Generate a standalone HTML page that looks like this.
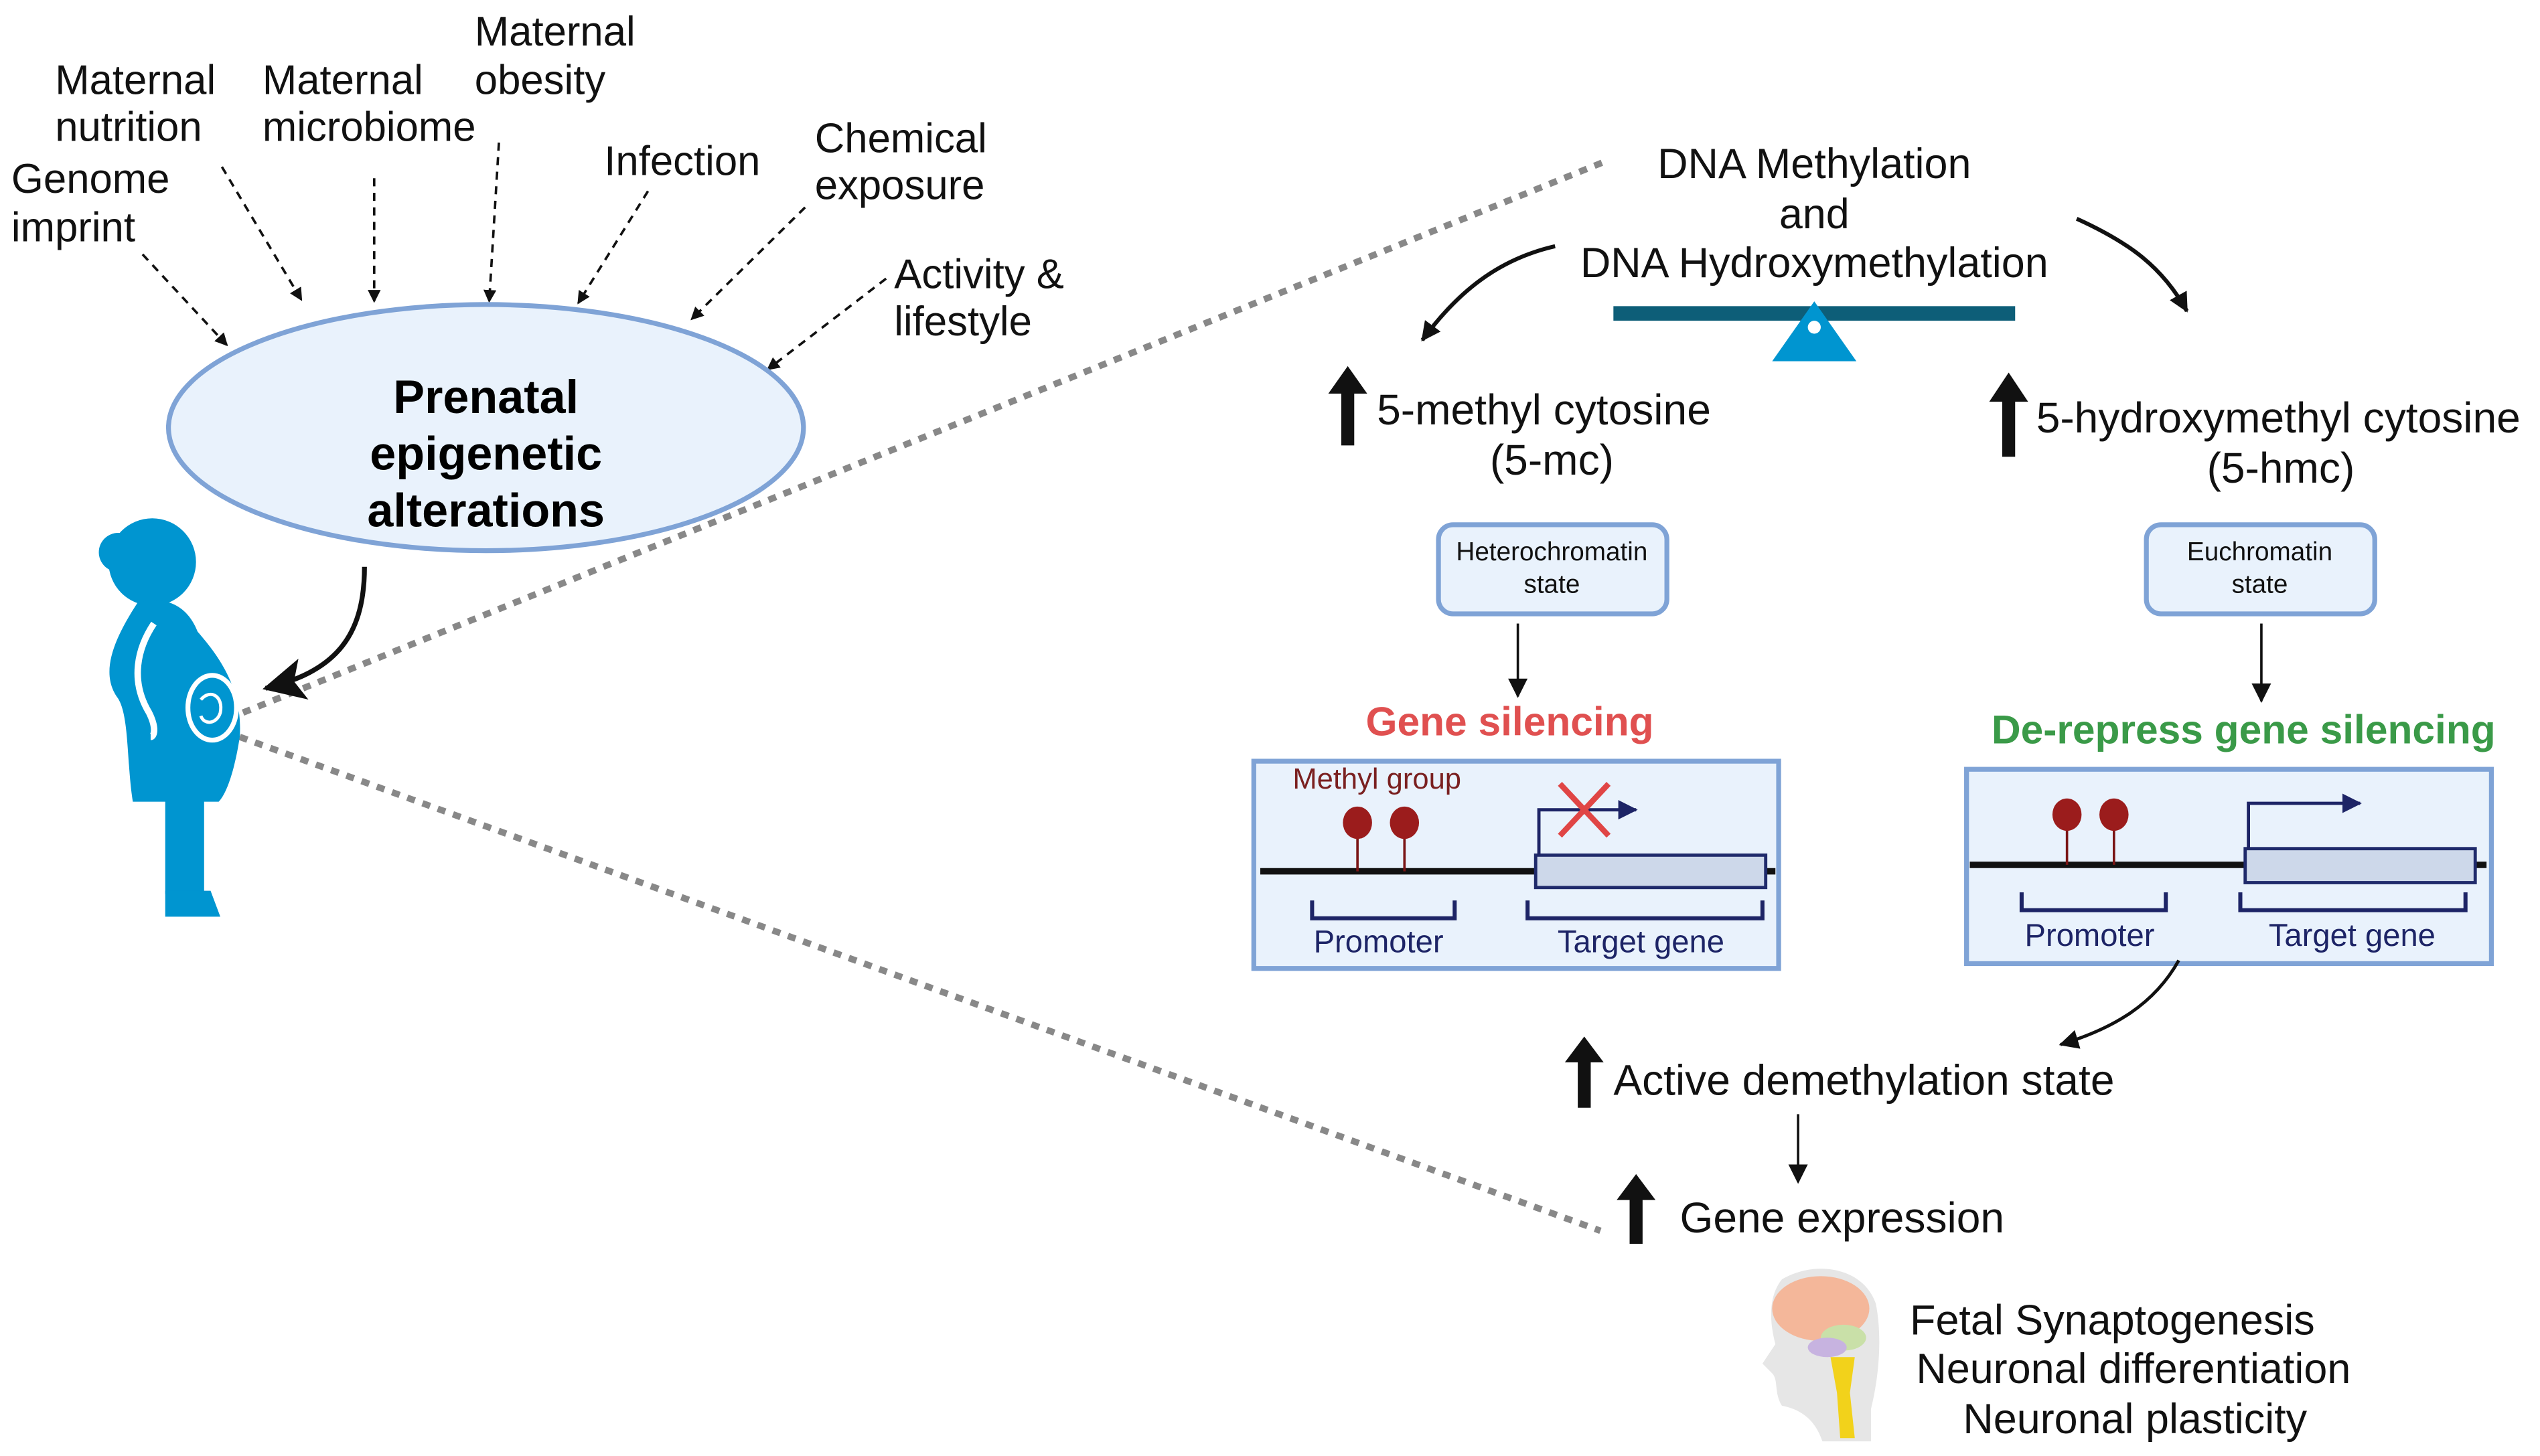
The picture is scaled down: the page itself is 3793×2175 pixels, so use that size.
<!DOCTYPE html>
<html><head><meta charset="utf-8"><style>
html,body{margin:0;padding:0;background:#fff;}
svg{display:block;}
text{font-family:"Liberation Sans",sans-serif;}
</style></head><body>
<svg width="3793" height="2175" viewBox="0 0 1568 899" xmlns="http://www.w3.org/2000/svg">
<defs>
<marker id="sa" markerWidth="8" markerHeight="8" refX="7" refY="4" orient="auto" markerUnits="userSpaceOnUse"><path d="M0,0 L8,4 L0,8 Z" fill="#111"/></marker>
<marker id="ma" markerWidth="12" markerHeight="12" refX="11" refY="6" orient="auto" markerUnits="userSpaceOnUse"><path d="M0,0 L12,6 L0,12 Z" fill="#111"/></marker>
<marker id="la" markerWidth="26" markerHeight="26" refX="24" refY="13" orient="auto" markerUnits="userSpaceOnUse"><path d="M0,0 L26,13 L0,26 L6,13 Z" fill="#111"/></marker>
<marker id="ba" markerWidth="12" markerHeight="12" refX="11" refY="6" orient="auto" markerUnits="userSpaceOnUse"><path d="M0,0 L12,6 L0,12 Z" fill="#1d2466"/></marker>
</defs>

<g stroke="#888" stroke-width="4" stroke-dasharray="5,5" fill="none">
<line x1="150" y1="440" x2="990" y2="100"/>
<line x1="148" y1="455" x2="988" y2="760"/>
</g>

<g font-size="25.5" fill="#111">
<text x="7" y="119">Genome</text><text x="7" y="149">imprint</text>
<text x="34" y="58">Maternal</text><text x="34" y="87">nutrition</text>
<text x="162" y="58">Maternal</text><text x="162" y="87">microbiome</text>
<text x="293" y="28">Maternal</text><text x="293" y="58">obesity</text>
<text x="373" y="108">Infection</text>
<text x="503" y="94">Chemical</text><text x="503" y="123">exposure</text>
<text x="552" y="178">Activity &amp;</text><text x="552" y="207">lifestyle</text>
</g>
<g stroke="#111" stroke-width="1.5" stroke-dasharray="5,4" fill="none" marker-end="url(#sa)">
<line x1="88" y1="157" x2="140" y2="213"/>
<line x1="137" y1="103" x2="186" y2="185"/>
<line x1="231" y1="110" x2="231" y2="186"/>
<line x1="308" y1="88" x2="302" y2="186"/>
<line x1="400" y1="118" x2="357" y2="187"/>
<line x1="497" y1="128" x2="427" y2="197"/>
<line x1="547" y1="172" x2="474" y2="228"/>
</g>

<ellipse cx="300" cy="264" rx="196" ry="76" fill="#e9f2fc" stroke="#7fa3d6" stroke-width="3"/>
<g font-size="29" font-weight="bold" text-anchor="middle" fill="#000">
<text x="300" y="255">Prenatal</text><text x="300" y="290">epigenetic</text><text x="300" y="325">alterations</text>
</g>
<path d="M225,350 C225,395 205,415 164,425" stroke="#111" stroke-width="3" fill="none" marker-end="url(#la)"/>

<g fill="#0095d0">
<circle cx="94" cy="347" r="27"/>
<circle cx="73" cy="341" r="12"/>
<path d="M85,372 C100,368 115,372 122,390 C135,405 150,425 148,455 C145,475 140,490 135,495 L82,495 C78,470 80,440 72,430 C62,415 70,395 85,372 Z"/>
<rect x="102" y="490" width="24" height="62"/>
<path d="M102,550 L130,550 L136,566 L102,566 Z"/>
</g>
<path d="M95,385 C85,400 80,420 92,440 C97,450 95,455 93,455" stroke="#fff" stroke-width="4" fill="none"/>
<ellipse cx="131" cy="437" rx="15" ry="20" fill="none" stroke="#fff" stroke-width="3"/>
<path d="M124,432 C130,425 138,430 136,440 C134,447 126,448 124,442" stroke="#fff" stroke-width="2" fill="none"/>

<g font-size="26" text-anchor="middle" fill="#111">
<text x="1120" y="110">DNA Methylation</text><text x="1120" y="141">and</text><text x="1120" y="171">DNA Hydroxymethylation</text>
</g>
<path d="M960,152 C925,160 900,180 878,210" stroke="#111" stroke-width="2.5" fill="none" marker-end="url(#ma)"/>
<path d="M1282,135 C1315,150 1335,165 1350,192" stroke="#111" stroke-width="2.5" fill="none" marker-end="url(#ma)"/>
<rect x="996" y="189" width="248" height="9" fill="#0d5e78"/>
<path d="M1120,186 L1146,223 L1094,223 Z" fill="#0095d0"/>
<circle cx="1120" cy="202" r="4" fill="#fff"/>

<g fill="#111">
<path d="M828,275 L828,243 L820,243 L832,226 L844,243 L836,243 L836,275 Z"/>
<path d="M1236,282 L1236,248 L1228,248 L1240,230 L1252,248 L1244,248 L1244,282 Z"/>
<path d="M974,684 L974,656 L966,656 L978,640 L990,656 L982,656 L982,684 Z"/>
<path d="M1006,768 L1006,741 L998,741 L1010,725 L1022,741 L1014,741 L1014,768 Z"/>
</g>
<g font-size="26.5" fill="#111">
<text x="850" y="262">5-methyl cytosine</text>
<text x="958" y="293" text-anchor="middle">(5-mc)</text>
<text x="1257" y="267">5-hydroxymethyl cytosine</text>
<text x="1408" y="298" text-anchor="middle">(5-hmc)</text>
<text x="996" y="676">Active demethylation state</text>
<text x="1037" y="761">Gene expression</text>
</g>

<rect x="888" y="324" width="141" height="55" rx="9" fill="#e9f2fc" stroke="#7fa3d6" stroke-width="3"/>
<rect x="1325" y="324" width="141" height="55" rx="9" fill="#e9f2fc" stroke="#7fa3d6" stroke-width="3"/>
<g font-size="16" text-anchor="middle" fill="#111">
<text x="958" y="346">Heterochromatin</text><text x="958" y="366">state</text>
<text x="1395" y="346">Euchromatin</text><text x="1395" y="366">state</text>
</g>
<line x1="937" y1="385" x2="937" y2="430" stroke="#111" stroke-width="1.5" marker-end="url(#ma)"/>
<line x1="1396" y1="385" x2="1396" y2="433" stroke="#111" stroke-width="1.5" marker-end="url(#ma)"/>
<text x="932" y="454" font-size="25" font-weight="bold" fill="#e05050" text-anchor="middle">Gene silencing</text>
<text x="1385" y="459" font-size="25" font-weight="bold" fill="#3a9a48" text-anchor="middle">De-repress gene silencing</text>

<rect x="774" y="470" width="324" height="128" fill="#e9f2fc" stroke="#7fa3d6" stroke-width="3"/>
<line x1="778" y1="538" x2="1096" y2="538" stroke="#111" stroke-width="4"/>
<rect x="948" y="528" width="142" height="20" fill="#cdd8ea" stroke="#1f2a6b" stroke-width="2"/>
<g stroke="#7a1515" stroke-width="1.5"><line x1="838" y1="508" x2="838" y2="538"/><line x1="867" y1="508" x2="867" y2="538"/></g>
<g fill="#9b1c1c"><ellipse cx="838" cy="508" rx="9" ry="10"/><ellipse cx="867" cy="508" rx="9" ry="10"/></g>
<text x="798" y="487" font-size="18" fill="#7a2020">Methyl group</text>
<path d="M950,528 L950,500 L1010,500" stroke="#1d2466" stroke-width="2" fill="none" marker-end="url(#ba)"/>
<g stroke="#e04545" stroke-width="3.5"><line x1="963" y1="484" x2="993" y2="516"/><line x1="993" y1="484" x2="963" y2="516"/></g>

<rect x="1214" y="475" width="324" height="120" fill="#e9f2fc" stroke="#7fa3d6" stroke-width="3"/>
<line x1="1216" y1="534" x2="1535" y2="534" stroke="#111" stroke-width="4"/>
<rect x="1386" y="524" width="142" height="21" fill="#cdd8ea" stroke="#1f2a6b" stroke-width="2"/>
<g stroke="#7a1515" stroke-width="1.5"><line x1="1276" y1="503" x2="1276" y2="534"/><line x1="1305" y1="503" x2="1305" y2="534"/></g>
<g fill="#9b1c1c"><ellipse cx="1276" cy="503" rx="9" ry="10"/><ellipse cx="1305" cy="503" rx="9" ry="10"/></g>
<path d="M1388,524 L1388,496 L1457,496" stroke="#1d2466" stroke-width="2" fill="none" marker-end="url(#ba)"/>

<g stroke="#1d2466" stroke-width="2.5" fill="none">
<path d="M810,556 L810,567 L898,567 L898,556"/><path d="M943,556 L943,567 L1088,567 L1088,556"/>
<path d="M1248,551 L1248,562 L1337,562 L1337,551"/><path d="M1383,551 L1383,562 L1522,562 L1522,551"/>
</g>
<g font-size="19.5" fill="#1d2466" text-anchor="middle">
<text x="851" y="588">Promoter</text><text x="1013" y="588">Target gene</text>
<text x="1290" y="584">Promoter</text><text x="1452" y="584">Target gene</text>
</g>

<path d="M1345,593 C1330,620 1305,635 1272,645" stroke="#111" stroke-width="2" fill="none" marker-end="url(#ma)"/>
<line x1="1110" y1="688" x2="1110" y2="730" stroke="#111" stroke-width="1.5" marker-end="url(#ma)"/>

<path d="M1100,790 C1120,778 1150,782 1158,805 C1162,825 1160,850 1155,870 L1155,890 L1125,890 C1120,875 1110,870 1100,868 C1095,860 1098,852 1094,848 L1088,842 L1096,830 C1092,815 1092,800 1100,790 Z" fill="#e6e6e6"/>
<ellipse cx="1124" cy="808" rx="30" ry="20" fill="#f4b79a"/>
<ellipse cx="1138" cy="826" rx="14" ry="8" fill="#c9e0a8"/>
<ellipse cx="1128" cy="832" rx="12" ry="6" fill="#c7b3e0"/>
<path d="M1130,838 L1145,838 L1142,860 L1145,888 L1136,888 L1134,860 Z" fill="#f2d21b"/>
<g font-size="26" fill="#111" text-anchor="middle">
<text x="1304" y="824">Fetal Synaptogenesis</text>
<text x="1317" y="854">Neuronal differentiation</text>
<text x="1318" y="885">Neuronal plasticity</text>
</g>
</svg>
</body></html>
